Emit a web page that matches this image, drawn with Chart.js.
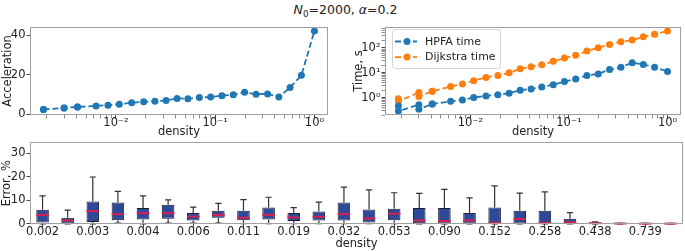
<!DOCTYPE html>
<html>
<head>
<meta charset="utf-8">
<script src="https://cdn.jsdelivr.net/npm/chart.js@4/dist/chart.umd.min.js"></script>
<style>
html, body { margin: 0; padding: 0; background: #fff; }
#wrap { position: relative; width: 685px; height: 251px; overflow: hidden; font-family: "DejaVu Sans", sans-serif; }
#wrap canvas { position: absolute; }
#title { position: absolute; left: 3px; top: 2px; width: 685px; text-align: center; font-size: 12.5px; color: #222; line-height: 15px; }
#title .sub { font-size: 70%; position: relative; top: 3px; }
</style>
</head>
<body>
<div id="wrap">
  <div id="title"><i>N</i><span class="sub">0</span>=2000, <i>α</i>=0.2</div>
  <canvas id="accCanvas" width="340" height="140" style="left:0;top:0"></canvas>
  <canvas id="timeCanvas" width="345" height="140" style="left:340px;top:0"></canvas>
  <canvas id="errCanvas" width="685" height="117" style="left:0;top:134px"></canvas>
</div>
<script>
// densities (duplicates are real: same density run twice)
var density = [0.00186, 0.00186, 0.0030, 0.0030, 0.0041, 0.0041, 0.0063, 0.0083, 0.0108, 0.0144,
               0.019, 0.0247, 0.032, 0.0413, 0.053, 0.0693, 0.090, 0.117, 0.152, 0.198,
               0.258, 0.337, 0.438, 0.568, 0.739, 1.0];
var densityLabels = ['0.002', '0.002', '0.003', '0.003', '0.004', '0.004', '0.006', '0.008', '0.011', '0.014',
                     '0.019', '0.025', '0.032', '0.041', '0.053', '0.069', '0.090', '0.117', '0.152', '0.198',
                     '0.258', '0.337', '0.438', '0.568', '0.739', '1.000'];

var acceleration = [2.3, 2.3, 3.1, 3.1, 3.6, 3.6, 4.1, 4.5, 5.0, 5.7, 6.2, 6.5, 6.9, 7.9, 7.7, 8.4,
                    8.6, 9.3, 9.8, 11.0, 10.0, 10.2, 8.6, 13.4, 19.6, 42.1];
var hpfaTime = [0.46, 0.29, 0.52, 0.34, 0.55, 0.55, 0.71, 0.81, 1.0, 1.17, 1.29, 1.5, 2.0, 2.2, 2.7, 3.3,
                4.4, 5.6, 7.7, 9.0, 13.5, 16.7, 25, 21.6, 16.7, 11.2];
var dijkstraTime = [0.91, 0.71, 1.6, 1.1, 1.8, 1.8, 2.8, 3.5, 4.8, 6.5, 7.7, 9.9, 14.4, 17.4, 21, 28.7,
                    39, 50, 74, 100, 138, 175, 205, 280, 355, 480];

// error box plot, %
var errLow    = [0, 0, 0, 0.3, 0, 0.3, 0.3, 0.3, 0.1, 0.1, 0.1, 0.1, 0.1, 0.1, 0.1, 0, 0, 0, 0, 0, 0, 0, 0, 0, 0, 0];
var errQ1     = [0.6, 0.1, 0.8, 1.5, 1.8, 2.2, 1.4, 2.6, 1.5, 1.8, 1.2, 1.4, 1.4, 0.6, 1.5, 0.2, 0.1, 0.1, 0.1, 0.1, 0.1, 0.1, 0.1, 0.05, 0.05, 0.05];
var errMedian = [3.8, 1.4, 5.4, 4.1, 4.5, 4.5, 3.1, 3.8, 2.6, 3.8, 2.7, 3.0, 4.2, 2.3, 4.3, 1.4, 1.2, 1.4, 0.4, 2.0, 0.4, 0.6, 0.3, 0.15, 0.1, 0.1];
var errQ3     = [6.0, 2.6, 9.5, 9.1, 6.7, 8.1, 4.6, 5.6, 5.6, 6.9, 4.6, 5.2, 9.1, 6.1, 6.4, 6.7, 6.7, 4.6, 6.9, 5.6, 5.6, 2.2, 0.6, 0.2, 0.15, 0.15];
var errHigh   = [11.9, 5.8, 19.9, 13.8, 11.9, 10.2, 7.1, 8.7, 10.3, 11.3, 6.9, 9.2, 15.6, 14.4, 13.2, 12.9, 14.6, 11.0, 16.1, 13.0, 13.6, 4.8, 0.8, 0.25, 0.2, 0.2];

var BLUE = '#1f77b4', ORANGE = '#ff7f0e';
var TICK_FONT = { family: '"DejaVu Sans"', size: 11.5 };
var TITLE_FONT = { family: '"DejaVu Sans"', size: 11.5 };

Chart.defaults.font.family = '"DejaVu Sans"';
Chart.defaults.color = '#222';

var sup = { '-': '\u207b', '0': '\u2070', '1': '\u00b9', '2': '\u00b2', '3': '\u00b3' };
function powLabel(e) {
    return '10' + String(e).split('').map(function (c) { return sup[c]; }).join('');
}

function logTicks(lo, hi) {
    var out = [];
    for (var e = Math.floor(Math.log10(lo)); e <= Math.ceil(Math.log10(hi)); e++) {
        for (var m = 1; m < 10; m++) {
            var v = m * Math.pow(10, e);
            if (v >= lo && v <= hi) out.push({ value: v, major: m === 1 });
        }
    }
    return out;
}

function logAxis(lo, hi, pad, extra) {
    var ax = {
        type: 'logarithmic',
        min: lo,
        max: hi,
        afterBuildTicks: function (s) { s.ticks = logTicks(lo, hi); },
        ticks: {
            autoSkip: false, maxRotation: 0, padding: pad, font: TICK_FONT, color: '#222',
            callback: function (v, i, ticks) {
                return ticks[i].major ? powLabel(Math.round(Math.log10(v))) : '';
            }
        },
        grid: {
            drawOnChartArea: false, tickLength: 3.5, color: '#444',
            tickWidth: function (c) { return c.tick && c.tick.major ? 1 : 0.6; }
        },
        border: { display: false }
    };
    for (var k in extra) ax[k] = extra[k];
    return ax;
}

var framePlugin = {
    id: 'frame',
    afterDraw: function (chart) {
        var a = chart.chartArea, ctx = chart.ctx;
        ctx.save();
        ctx.strokeStyle = '#a0a0a0';
        ctx.lineWidth = 1;
        ctx.strokeRect(Math.round(a.left) + 0.5, Math.round(a.top) + 0.5,
                       Math.round(a.right - a.left) - 1, Math.round(a.bottom - a.top) - 1);
        ctx.restore();
    }
};

var legendPlugin = {
    id: 'innerLegend',
    afterDraw: function (chart) {
        var a = chart.chartArea, ctx = chart.ctx;
        var x = a.left + 7, y = a.top + 2, w = 108, h = 39;
        ctx.save();
        ctx.fillStyle = 'rgba(255,255,255,0.85)';
        ctx.strokeStyle = '#d4d4d4';
        ctx.lineWidth = 1;
        ctx.beginPath();
        ctx.roundRect(x + 0.5, y + 0.5, w, h, 3);
        ctx.fill();
        ctx.stroke();
        chart.data.datasets.forEach(function (ds, i) {
            var cy = y + 12.5 + i * 15.6;
            ctx.strokeStyle = ds.borderColor;
            ctx.lineWidth = ds.borderWidth;
            ctx.setLineDash(ds.borderDash);
            ctx.beginPath();
            ctx.moveTo(x + 3, cy);
            ctx.lineTo(x + 25, cy);
            ctx.stroke();
            ctx.setLineDash([]);
            ctx.fillStyle = ds.pointBackgroundColor;
            ctx.beginPath();
            ctx.arc(x + 15, cy, 3.5, 0, 2 * Math.PI);
            ctx.fill();
            ctx.fillStyle = '#222';
            ctx.font = '11px "DejaVu Sans"';
            ctx.textBaseline = 'middle';
            ctx.fillText(ds.label, x + 33, cy + 0.5);
        });
        ctx.restore();
    }
};

var whiskerPlugin = {
    id: 'whiskers',
    afterDatasetsDraw: function (chart) {
        var xs = chart.scales.x, ys = chart.scales.y, ctx = chart.ctx;
        var bars = chart.getDatasetMeta(0).data;
        ctx.save();
        density.forEach(function (d, i) {
            var cx = xs.getPixelForValue(i);
            var half = bars[i].width / 2;
            var cap = half / 2;
            ctx.strokeStyle = '#333';
            ctx.lineWidth = 1.2;
            ctx.beginPath();
            if (errHigh[i] > errQ3[i]) {
                ctx.moveTo(cx, ys.getPixelForValue(errQ3[i]));
                ctx.lineTo(cx, ys.getPixelForValue(errHigh[i]));
            }
            if (errLow[i] < errQ1[i]) {
                ctx.moveTo(cx, ys.getPixelForValue(errQ1[i]));
                ctx.lineTo(cx, ys.getPixelForValue(errLow[i]));
            }
            ctx.moveTo(cx - cap, ys.getPixelForValue(errHigh[i]));
            ctx.lineTo(cx + cap, ys.getPixelForValue(errHigh[i]));
            ctx.moveTo(cx - cap, ys.getPixelForValue(errLow[i]));
            ctx.lineTo(cx + cap, ys.getPixelForValue(errLow[i]));
            ctx.stroke();
            ctx.strokeStyle = '#d6204d';
            ctx.lineWidth = 2;
            ctx.beginPath();
            ctx.moveTo(cx - half, ys.getPixelForValue(errMedian[i]));
            ctx.lineTo(cx + half, ys.getPixelForValue(errMedian[i]));
            ctx.stroke();
        });
        ctx.restore();
    }
};

function points(ys) {
    return density.map(function (d, i) { return { x: d, y: ys[i] }; });
}

function lineSet(label, ys, color) {
    return {
        label: label,
        data: points(ys),
        borderColor: color,
        backgroundColor: color,
        pointBackgroundColor: color,
        pointBorderWidth: 0,
        pointRadius: 3.5,
        borderWidth: 1.8,
        borderDash: [6, 3],
        fill: false,
        tension: 0
    };
}

var baseOpts = {
    responsive: false,
    animation: false,
    plugins: { legend: { display: false }, tooltip: { enabled: false } }
};

function merge(a, b) {
    var o = {};
    for (var k in a) o[k] = a[k];
    for (var j in b) o[j] = b[j];
    return o;
}

// top left: acceleration
new Chart(document.getElementById('accCanvas'), {
    type: 'line',
    data: { datasets: [lineSet('Acceleration', acceleration, BLUE)] },
    options: merge(baseOpts, {
        layout: { padding: { left: 0, top: 27, right: 12, bottom: 0 } },
        scales: {
            x: logAxis(0.00136, 1.37, -2, {
                afterFit: function (s) { s.height = 25; },
                title: { display: true, text: 'density', font: TITLE_FONT, color: '#222', padding: { top: 0, bottom: 1 } }
            }),
            y: {
                min: -0.5, max: 44.1,
                afterFit: function (s) { s.width = 30; },
                ticks: { stepSize: 20, includeBounds: false, padding: 1, font: TICK_FONT, color: '#222' },
                grid: { drawOnChartArea: false, tickLength: 3.5, color: '#444' },
                border: { display: false },
                title: { display: true, text: 'Acceleration', font: TITLE_FONT, color: '#222', padding: { top: 1, bottom: 0 } }
            }
        }
    }),
    plugins: [framePlugin]
});

// top right: times
new Chart(document.getElementById('timeCanvas'), {
    type: 'line',
    data: {
        datasets: [
            lineSet('HPFA time', hpfaTime, BLUE),
            lineSet('Dijkstra time', dijkstraTime, ORANGE)
        ]
    },
    options: merge(baseOpts, {
        layout: { padding: { left: 0, top: 27, right: 3, bottom: 0 } },
        scales: {
            x: logAxis(0.00136, 1.37, -2, {
                afterFit: function (s) { s.height = 25; },
                title: { display: true, text: 'density', font: TITLE_FONT, color: '#222', padding: { top: 0, bottom: 1 } }
            }),
            y: logAxis(0.2, 690, 1, {
                afterFit: function (s) { s.width = 45; },
                title: { display: true, text: 'Time, s', font: TITLE_FONT, color: '#222', padding: { top: 12, bottom: 0 } }
            })
        }
    }),
    plugins: [framePlugin, legendPlugin]
});

// bottom: error box plot
new Chart(document.getElementById('errCanvas'), {
    type: 'bar',
    data: {
        labels: densityLabels,
        datasets: [{
            label: 'Error',
            data: errQ1.map(function (q, i) { return [q, errQ3[i]]; }),
            backgroundColor: '#2d4a9a',
            borderColor: '#1e1e30',
            borderWidth: 1,
            borderSkipped: false,
            barPercentage: 0.5,
            categoryPercentage: 1
        }]
    },
    options: merge(baseOpts, {
        layout: { padding: { left: 0, top: 4, right: 2, bottom: 0 } },
        scales: {
            x: {
                afterFit: function (s) { s.height = 26.7; },
                ticks: {
                    autoSkip: false, maxRotation: 0, padding: -2.5, font: TICK_FONT, color: '#222',
                    callback: function (v, i) { return i % 2 === 0 ? this.getLabelForValue(v) : null; }
                },
                grid: { drawOnChartArea: false, tickLength: 3.5, color: '#444', offset: false },
                border: { display: false },
                title: { display: true, text: 'density', font: TITLE_FONT, color: '#222', padding: { top: 0, bottom: 0 } }
            },
            y: {
                min: -0.2, max: 34.8,
                afterFit: function (s) { s.width = 30; },
                ticks: { stepSize: 10, includeBounds: false, padding: 1, font: TICK_FONT, color: '#222' },
                grid: { drawOnChartArea: false, tickLength: 3.5, color: '#444' },
                border: { display: false },
                title: { display: true, text: 'Error, %', font: TITLE_FONT, color: '#222', padding: { top: 0, bottom: 0 } }
            }
        }
    }),
    plugins: [whiskerPlugin, framePlugin]
});
</script>
</body>
</html>
